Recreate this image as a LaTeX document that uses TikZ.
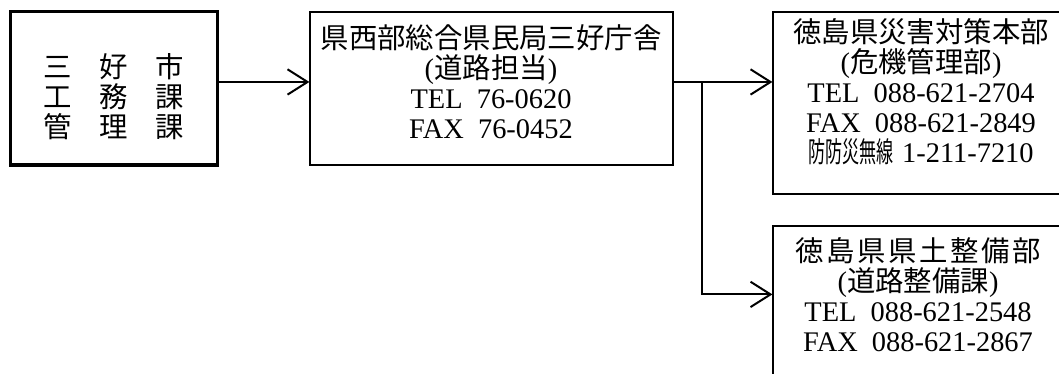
\documentclass[tikz,border=0pt]{standalone}
\usepackage{fontspec}
\setmainfont[WordSpace=2]{Liberation Serif}
\newfontfamily\jp{Noto Sans CJK JP}
\usetikzlibrary{arrows.meta, positioning, calc}

\begin{document}
\begin{tikzpicture}[
    x=0.75pt, y=-0.75pt,
    % --- STYLES ---
    citybox/.style={draw, line width=2.25pt, minimum width=155.25pt, minimum height=114.75pt, inner sep=0pt},
    officebox/.style={draw, line width=0.9pt, minimum width=#1, inner sep=0pt},
    info/.style={align=center, inner sep=0pt, font=\fontsize{21.3}{22.5}\selectfont},
    link/.style={-{Straight Barb[length=15pt, width=19pt, line width=1.5pt]}, line width=1.5pt}
]
\useasboundingbox (0,0) rectangle (1059,374);
\clip (0,0) rectangle (1059,374);

% --- 1. BOXES ---
\node[citybox] (city) at (113.5,88.5) {};
\node[officebox=272.25pt, minimum height=114.75pt] (hq) at (491.5,88.5) {};
\node[officebox=222pt, minimum height=136.5pt] (crisis) at (921,103) {};
\node[officebox=222pt, minimum height=145.5pt] (road) at (921,323) {};

% --- 2. TEXTS ---
\node[info] (citytxt) at (114,97) {{\jp 三\hspace{20.7pt}好\hspace{20.7pt}市}\\{\jp 工\hspace{20.7pt}務\hspace{20.7pt}課}\\{\jp 管\hspace{20.7pt}理\hspace{20.7pt}課}};
\node[info] (hqtxt) at (491,81.5) {{\jp 県西部総合県民局三好庁舎}\\({\jp 道路担当})\\TEL 76-0620\\FAX 76-0452};
\node[info] (crisistxt) at (921,91.5) {{\jp 徳島県災害対策本部}\\({\jp 危機管理部})\\TEL 088-621-2704\\FAX 088-621-2849\\{\jp\scalebox{0.6}[1]{防防災無線}}\hspace{0.3em}1-211-7210};
\node[info] (roadtxt) at (918,295) {{\jp 徳\hspace{2pt}島\hspace{2pt}県\hspace{2pt}県\hspace{2pt}土\hspace{2pt}整\hspace{2pt}備\hspace{2pt}部}\\({\jp 道路整備課})\\TEL 088-621-2548\\FAX 088-621-2867};

% --- 3. CONNECTORS ---
\coordinate (out1) at ([yshift=4.9pt]city.east);
\coordinate (out2) at ([yshift=4.9pt]hq.east);
\coordinate (split) at (702,82);
\coordinate (roadin) at ([yshift=-51.75pt]road.north west);

\draw[link] (out1) -- (out1 -| hq.west);
\draw[link] (out2) -- (out2 -| crisis.west);
\draw[link] (split) |- (roadin);

\end{tikzpicture}
\end{document}
